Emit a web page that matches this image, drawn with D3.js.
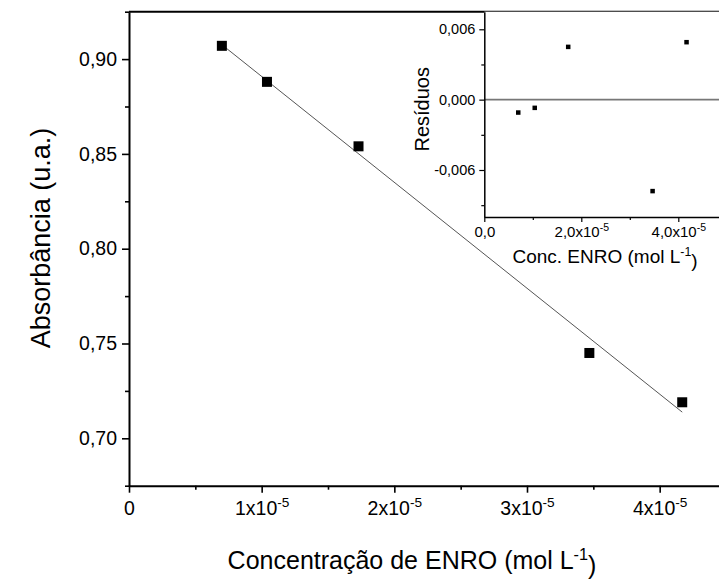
<!DOCTYPE html>
<html>
<head>
<meta charset="utf-8">
<script src="https://cdn.jsdelivr.net/npm/d3@7/dist/d3.min.js"></script>
<style>
  html, body { margin: 0; padding: 0; background: #fff; }
  svg { display: block; }
  svg text { font-family: "Liberation Sans", Arial, sans-serif; }
</style>
</head>
<body>
<svg id="chart" width="719" height="581"></svg>
<script>
// Calibration data: ENRO concentration (mol/L) vs absorbance
const concentration = [0.70e-5, 1.04e-5, 1.73e-5, 3.47e-5, 4.17e-5];
const absorbance = [0.907, 0.888, 0.854, 0.745, 0.719];
// Residuals of the linear fit
const residuals = [-0.0011, -0.0007, 0.0045, -0.0078, 0.0049];

// Tick values
const mainXTicks = [0, 1e-5, 2e-5, 3e-5, 4e-5];
const mainXMinor = [0.5e-5, 1.5e-5, 2.5e-5, 3.5e-5, 4.5e-5];
const mainYTicks = [0.70, 0.75, 0.80, 0.85, 0.90];
const mainYMinor = [0.675, 0.725, 0.775, 0.825, 0.875, 0.925];
const insetXTicks = [0, 2e-5, 4e-5];
const insetXMinor = [1e-5, 3e-5, 5e-5];
const insetYTicks = [-0.006, 0, 0.006];
const insetYMinor = [-0.009, -0.003, 0.003];

const FONT = "Liberation Sans, Arial, sans-serif";
const svg = d3.select("#chart");

// ---------- main plot ----------
const M = { left: 129, top: 11.7, right: 726, bottom: 485.7 };
const x = d3.scaleLinear().domain([0, 4.5e-5]).range([M.left, M.right]);
const y = d3.scaleLinear().domain([0.675, 0.925]).range([M.bottom, M.top]);

// least-squares line through the calibration points
const mx = d3.mean(concentration), my = d3.mean(absorbance);
const sxy = d3.sum(concentration, (c, i) => (c - mx) * (absorbance[i] - my));
const sxx = d3.sum(concentration, c => (c - mx) * (c - mx));
const slope = sxy / sxx, intercept = my - slope * mx;
const fitX = d3.extent(concentration);

svg.append("line")
  .attr("x1", x(fitX[0])).attr("y1", y(intercept + slope * fitX[0]))
  .attr("x2", x(fitX[1])).attr("y2", y(intercept + slope * fitX[1]))
  .attr("stroke", "#555").attr("stroke-width", 1);

const sq = 10;
svg.append("g").selectAll("rect").data(concentration).join("rect")
  .attr("x", d => x(d) - sq / 2)
  .attr("y", (d, i) => y(absorbance[i]) - sq / 2)
  .attr("width", sq).attr("height", sq).attr("fill", "#000");

// superscript formatter for powers of ten
function sciLabel(sel, mant, exp) {
  sel.text(null);
  sel.append("tspan").text(mant + "x10");
  sel.append("tspan").attr("dy", "-0.55em").attr("font-size", "0.7em").text(exp);
}

function styleAxis(g, fs, domW, tickW) {
  g.attr("font-family", FONT);
  g.select(".domain").attr("stroke-width", domW);
  g.selectAll(".tick line").attr("stroke-width", tickW);
  g.selectAll(".tick text").attr("font-size", fs).attr("fill", "#000");
}

// x axis
const gx = svg.append("g").attr("transform", `translate(0,${M.bottom})`)
  .call(d3.axisBottom(x).tickValues(mainXTicks).tickSizeInner(7).tickSizeOuter(0).tickPadding(8));
styleAxis(gx, 19.5, 2, 1.6);
gx.selectAll(".tick text").each(function (d) {
  const t = d3.select(this);
  if (d === 0) t.text("0");
  else sciLabel(t, String(Math.round(d / 1e-5)), "-5");
});
svg.append("g").attr("transform", `translate(0,${M.bottom})`)
  .call(d3.axisBottom(x).tickValues(mainXMinor).tickSize(4).tickFormat(""))
  .call(g => g.select(".domain").remove())
  .selectAll("line").attr("stroke-width", 1.6);

// y axis
const gy = svg.append("g").attr("transform", `translate(${M.left},0)`)
  .call(d3.axisLeft(y).tickValues(mainYTicks).tickSizeInner(7).tickSizeOuter(0).tickPadding(5)
    .tickFormat(d => d3.format(".2f")(d).replace(".", ",")));
styleAxis(gy, 19.5, 2, 1.6);
svg.append("g").attr("transform", `translate(${M.left},0)`)
  .call(d3.axisLeft(y).tickValues(mainYMinor).tickSize(4).tickFormat(""))
  .call(g => g.select(".domain").remove())
  .selectAll("line").attr("stroke-width", 1.6);

// top frame line
svg.append("line").attr("x1", M.left).attr("x2", M.right)
  .attr("y1", M.top).attr("y2", M.top).attr("stroke", "#000").attr("stroke-width", 2);

// axis titles
const xt = svg.append("text").attr("x", 412).attr("y", 569)
  .attr("text-anchor", "middle").attr("font-size", 25).attr("fill", "#000");
xt.append("tspan").text("Concentração de ENRO (mol L");
xt.append("tspan").attr("dy", "-0.55em").attr("font-size", "0.65em").text("-1");
xt.append("tspan").attr("dy", "0.55em").text(")");

svg.append("text")
  .attr("transform", `translate(50,238) rotate(-90)`)
  .attr("text-anchor", "middle").attr("font-size", 27).attr("fill", "#000")
  .text("Absorbância (u.a.)");

// ---------- inset: residuals ----------
const I = { left: 484.3, top: 11.7, right: 726.8, bottom: 216.9 };
const ix = d3.scaleLinear().domain([0, 5e-5]).range([I.left, I.right]);
const iy = d3.scaleLinear().domain([-0.010, 0.0075]).range([I.bottom, I.top]);

svg.append("rect").attr("x", I.left).attr("y", I.top)
  .attr("width", I.right - I.left).attr("height", I.bottom - I.top).attr("fill", "#fff");

// zero reference line
svg.append("line").attr("x1", I.left).attr("x2", I.right)
  .attr("y1", iy(0)).attr("y2", iy(0)).attr("stroke", "#777").attr("stroke-width", 1.6);

const isq = 4.5;
svg.append("g").selectAll("rect").data(concentration).join("rect")
  .attr("x", d => ix(d) - isq / 2)
  .attr("y", (d, i) => iy(residuals[i]) - isq / 2)
  .attr("width", isq).attr("height", isq).attr("fill", "#000");

const igx = svg.append("g").attr("transform", `translate(0,${I.bottom})`)
  .call(d3.axisBottom(ix).tickValues(insetXTicks).tickSizeInner(5).tickSizeOuter(0).tickPadding(4));
styleAxis(igx, 15, 1.5, 1.2);
igx.selectAll(".tick text").each(function (d) {
  const t = d3.select(this);
  if (d === 0) t.text("0,0");
  else sciLabel(t, (d / 1e-5).toFixed(1).replace(".", ","), "-5");
});
svg.append("g").attr("transform", `translate(0,${I.bottom})`)
  .call(d3.axisBottom(ix).tickValues(insetXMinor).tickSize(3).tickFormat(""))
  .call(g => g.select(".domain").remove())
  .selectAll("line").attr("stroke-width", 1.2);

const igy = svg.append("g").attr("transform", `translate(${I.left},0)`)
  .call(d3.axisLeft(iy).tickValues(insetYTicks).tickSizeInner(5).tickSizeOuter(0).tickPadding(4)
    .tickFormat(d => d3.format(".3f")(d).replace(".", ",").replace("−", "-")));
styleAxis(igy, 14.5, 1.5, 1.2);
svg.append("g").attr("transform", `translate(${I.left},0)`)
  .call(d3.axisLeft(iy).tickValues(insetYMinor).tickSize(3).tickFormat(""))
  .call(g => g.select(".domain").remove())
  .selectAll("line").attr("stroke-width", 1.2);

const ixt = svg.append("text").attr("x", 605).attr("y", 263)
  .attr("text-anchor", "middle").attr("font-size", 19).attr("fill", "#000");
ixt.append("tspan").text("Conc. ENRO (mol L");
ixt.append("tspan").attr("dy", "-0.55em").attr("font-size", "0.65em").text("-1");
ixt.append("tspan").attr("dy", "0.55em").text(")");

svg.append("text")
  .attr("transform", `translate(429,${(I.top + I.bottom) / 2 - 5}) rotate(-90)`)
  .attr("text-anchor", "middle").attr("font-size", 20).attr("fill", "#000")
  .text("Resíduos");
</script>
</body>
</html>
